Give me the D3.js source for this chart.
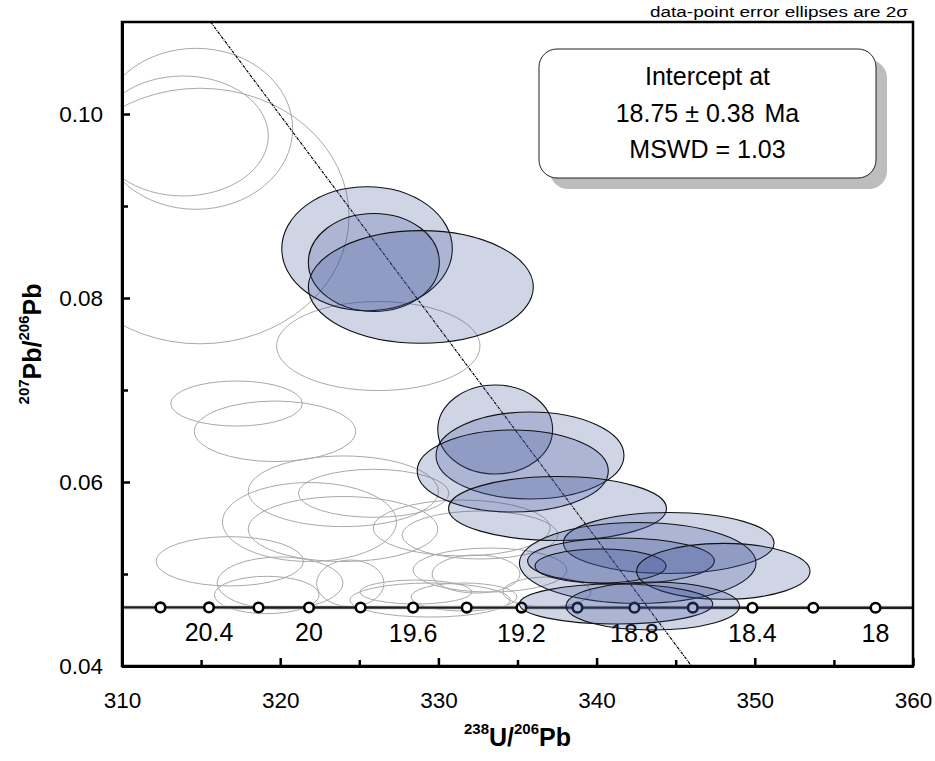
<!DOCTYPE html>
<html>
<head>
<meta charset="utf-8">
<script src="https://cdn.jsdelivr.net/npm/d3@7"></script>
<style>
  body { margin: 0; background: #fff; }
  text { font-family: "Liberation Sans", Arial, sans-serif; fill: #000; }
</style>
</head>
<body>
<svg id="chart"></svg>
<script>
var width = 935, height = 761

// grey (rejected) analyses: centre and 2 sigma half widths
var greyU = [314.68, 313.86, 314.93, 326.20, 317.24, 319.67, 323.99, 325.91, 321.85, 323.97, 331.47,
             332.63, 316.81, 319.99, 319.15, 324.43, 328.58, 331.62, 332.38, 336.86, 333.26, 329.47]
var greyR = [0.09839, 0.09761, 0.08891, 0.07478, 0.06853, 0.06551, 0.05899, 0.05877, 0.05565, 0.05489, 0.05500,
             0.05424, 0.05138, 0.04902, 0.04772, 0.04899, 0.04804, 0.04750, 0.05000, 0.04804, 0.05043, 0.04717]
var greyErrU = [6.11, 5.39, 9.42, 6.43, 4.16, 5.10, 6.01, 4.76, 5.50, 5.99, 5.59,
                4.93, 4.66, 3.98, 3.31, 2.13, 3.54, 3.35, 2.78, 2.78, 4.87, 5.06]
var greyErrR = [0.00875, 0.00652, 0.01389, 0.00484, 0.00245, 0.00329, 0.00384, 0.00261, 0.00429, 0.00353, 0.00304,
                0.00261, 0.00268, 0.00283, 0.00203, 0.00253, 0.00130, 0.00152, 0.00207, 0.00163, 0.00239, 0.00185]

// blue (used in the intercept) analyses
var blueU = [325.49, 325.92, 328.89, 333.59, 335.79, 334.70, 337.53, 344.56, 342.60, 341.54, 340.25, 348.01, 341.23, 343.55]
var blueR = [0.08536, 0.08386, 0.08120, 0.06571, 0.06288, 0.06120, 0.05712, 0.05337, 0.05120, 0.05141, 0.05087, 0.05029, 0.04674, 0.04652]
var blueErrU = [5.39, 4.14, 7.11, 3.63, 5.94, 6.04, 6.89, 6.66, 7.48, 5.90, 4.14, 5.48, 6.11, 5.48]
var blueErrR = [0.00674, 0.00533, 0.00612, 0.00484, 0.00473, 0.00446, 0.00348, 0.00332, 0.00440, 0.00250, 0.00185, 0.00304, 0.00217, 0.00261]

// concordia age marks (Ma)
var concAges = [20.6, 20.4, 20.2, 20.0, 19.8, 19.6, 19.4, 19.2, 19.0, 18.8, 18.6, 18.4, 18.2, 18.0]
var concU = [312.43, 315.50, 318.63, 321.82, 325.08, 328.40, 331.79, 335.25, 338.79, 342.39, 346.08, 349.85, 353.70, 357.63]
var concR = [0.04637, 0.04637, 0.04636, 0.04636, 0.04636, 0.04635, 0.04635, 0.04635, 0.04634, 0.04634, 0.04634, 0.04633, 0.04633, 0.04633]
var concLabels = [20.4, 20.0, 19.6, 19.2, 18.8, 18.4, 18.0]

// regression line
var discU = [315.6, 346.0]
var discR = [0.11, 0.04]

var xTicks = [310, 320, 330, 340, 350, 360]
var xMinor = [315, 325, 335, 345, 355]
var yTicks = [0.04, 0.06, 0.08, 0.10]
var yMinor = [0.05, 0.07, 0.09]

var boxLines = ["Intercept at", "18.75 ± 0.38", "MSWD = 1.03"]

var margin = {left: 122, top: 22, right: 22, bottom: 95}
var pw = width - margin.left - margin.right, ph = height - margin.top - margin.bottom

var svg = d3.select("#chart")
    .attr("width", width)
    .attr("height", height)
    .style("background", "white")

var x = d3.scaleLinear().domain([310, 360]).range([margin.left, margin.left + pw])
var y = d3.scaleLinear().domain([0.04, 0.11]).range([margin.top + ph, margin.top])

svg.append("clipPath").attr("id", "clip")
    .append("rect")
    .attr("x", margin.left).attr("y", margin.top)
    .attr("width", pw).attr("height", ph)

var plot = svg.append("g").attr("clip-path", "url(#clip)")

function ellipses(g, U, R, eU, eR) {
    return g.selectAll("ellipse")
        .data(d3.range(U.length))
        .enter()
        .append("ellipse")
            .attr("cx", function(i) { return x(U[i]) })
            .attr("cy", function(i) { return y(R[i]) })
            .attr("rx", function(i) { return x(U[i] + eU[i]) - x(U[i]) })
            .attr("ry", function(i) { return y(R[i]) - y(R[i] + eR[i]) })
}

// grey ellipses
ellipses(plot.append("g"), greyU, greyR, greyErrU, greyErrR)
    .attr("fill", "none")
    .attr("stroke", "#a9a9a9")
    .attr("stroke-width", 1)

// concordia
var concLine = [[x.domain()[0], concR[0]]]
concU.forEach(function(u, i) { concLine.push([u, concR[i]]) })
concLine.push([x.domain()[1], concR[concR.length - 1]])
var line = d3.line()
    .x(function(d) { return x(d[0]) })
    .y(function(d) { return y(d[1]) })
plot.append("path")
    .datum(concLine)
    .attr("d", line)
    .attr("fill", "none")
    .attr("stroke", "#d4d4d4")
    .attr("stroke-width", 4)
plot.append("path")
    .datum(concLine)
    .attr("d", line)
    .attr("fill", "none")
    .attr("stroke", "#1e1e1e")
    .attr("stroke-width", 2.4)

plot.selectAll(".age")
    .data(concU)
    .enter()
    .append("circle")
        .attr("class", "age")
        .attr("cx", function(d) { return x(d) })
        .attr("cy", function(d, i) { return y(concR[i]) })
        .attr("r", 4.8)
        .attr("fill", "white")
        .attr("stroke", "black")
        .attr("stroke-width", 2.6)

plot.selectAll(".agelabel")
    .data(concLabels)
    .enter()
    .append("text")
        .attr("class", "agelabel")
        .attr("x", function(d) { return x(concU[concAges.indexOf(d)]) })
        .attr("y", function(d) { return y(concR[concAges.indexOf(d)]) + 34 })
        .attr("text-anchor", "middle")
        .style("font-size", "25px")
        .text(function(d) { return String(d) })

// regression line
plot.append("line")
    .attr("x1", x(discU[0])).attr("y1", y(discR[0]))
    .attr("x2", x(discU[1])).attr("y2", y(discR[1]))
    .attr("stroke", "black")
    .attr("stroke-width", 1.2)
    .attr("stroke-dasharray", "3,1,1,1")

// blue ellipses
ellipses(plot.append("g"), blueU, blueR, blueErrU, blueErrR)
    .attr("fill", "rgb(54,76,148)")
    .attr("fill-opacity", 0.235)
    .attr("stroke", "#111")
    .attr("stroke-width", 1.1)

// frame
svg.append("rect")
    .attr("x", margin.left).attr("y", margin.top)
    .attr("width", pw).attr("height", ph)
    .attr("fill", "none")
    .attr("stroke", "black")
    .attr("stroke-width", 2.5)

function styleAxis(g, w) {
    g.select(".domain").attr("stroke-width", 3)
    g.selectAll(".tick line").attr("stroke-width", w)
    g.selectAll("text").style("font-size", "22.5px")
        .style("font-family", "'Liberation Sans', Arial, sans-serif")
}

svg.append("g")
    .attr("transform", "translate(0," + (margin.top + ph) + ")")
    .call(d3.axisBottom(x).tickValues(xTicks).tickFormat(d3.format("d"))
        .tickSizeInner(-8).tickSizeOuter(0).tickPadding(26))
    .call(styleAxis, 2.5)
svg.append("g")
    .attr("transform", "translate(0," + (margin.top + ph) + ")")
    .call(d3.axisBottom(x).tickValues(xMinor).tickFormat("")
        .tickSizeInner(-6).tickSizeOuter(0))
    .call(styleAxis, 2.5)
svg.append("g")
    .attr("transform", "translate(" + margin.left + ",0)")
    .call(d3.axisLeft(y).tickValues(yTicks).tickFormat(d3.format(".2f"))
        .tickSizeInner(-8).tickSizeOuter(0).tickPadding(19))
    .call(styleAxis, 2.5)
svg.append("g")
    .attr("transform", "translate(" + margin.left + ",0)")
    .call(d3.axisLeft(y).tickValues(yMinor).tickFormat("")
        .tickSizeInner(-6).tickSizeOuter(0))
    .call(styleAxis, 2.5)

// axis titles
var xt = svg.append("text")
    .attr("x", margin.left + pw / 2)
    .attr("y", 746)
    .attr("text-anchor", "middle")
    .style("font-weight", "bold")
    .style("font-size", "25px")
xt.append("tspan").attr("dy", -12).style("font-size", "15px").text("238")
xt.append("tspan").attr("dy", 12).text("U/")
xt.append("tspan").attr("dy", -12).style("font-size", "15px").text("206")
xt.append("tspan").attr("dy", 12).text("Pb")

var yt = svg.append("text")
    .attr("transform", "translate(41," + (margin.top + ph / 2) + ") rotate(-90)")
    .attr("text-anchor", "middle")
    .style("font-weight", "bold")
    .style("font-size", "25px")
yt.append("tspan").attr("dy", -12).style("font-size", "15px").text("207")
yt.append("tspan").attr("dy", 12).text("Pb/")
yt.append("tspan").attr("dy", -12).style("font-size", "15px").text("206")
yt.append("tspan").attr("dy", 12).text("Pb")

// note
svg.append("text")
    .attr("x", 908).attr("y", 17)
    .attr("text-anchor", "end")
    .attr("textLength", 258)
    .attr("lengthAdjust", "spacingAndGlyphs")
    .style("font-size", "15.5px")
    .text("data-point error ellipses are 2σ")

// result box
var box = svg.append("g").attr("transform", "translate(539,49)")
box.append("rect")
    .attr("x", 11).attr("y", 11)
    .attr("width", 337).attr("height", 129)
    .attr("rx", 18)
    .attr("fill", "#bdbdbd")
box.append("rect")
    .attr("width", 337).attr("height", 129)
    .attr("rx", 18)
    .attr("fill", "white")
    .attr("stroke", "#222")
    .attr("stroke-width", 1)
box.selectAll(".bl")
    .data(boxLines)
    .enter()
    .append("text")
        .attr("class", "bl")
        .attr("x", 168.5)
        .attr("y", function(d, i) { return 36 + i * 36.7 })
        .attr("text-anchor", "middle")
        .style("font-size", "25px")
        .each(function(d, i) {
            d3.select(this).append("tspan").text(d)
            if (i == 1) d3.select(this).append("tspan").attr("dx", 10).text("Ma")
        })
</script>
</body>
</html>
